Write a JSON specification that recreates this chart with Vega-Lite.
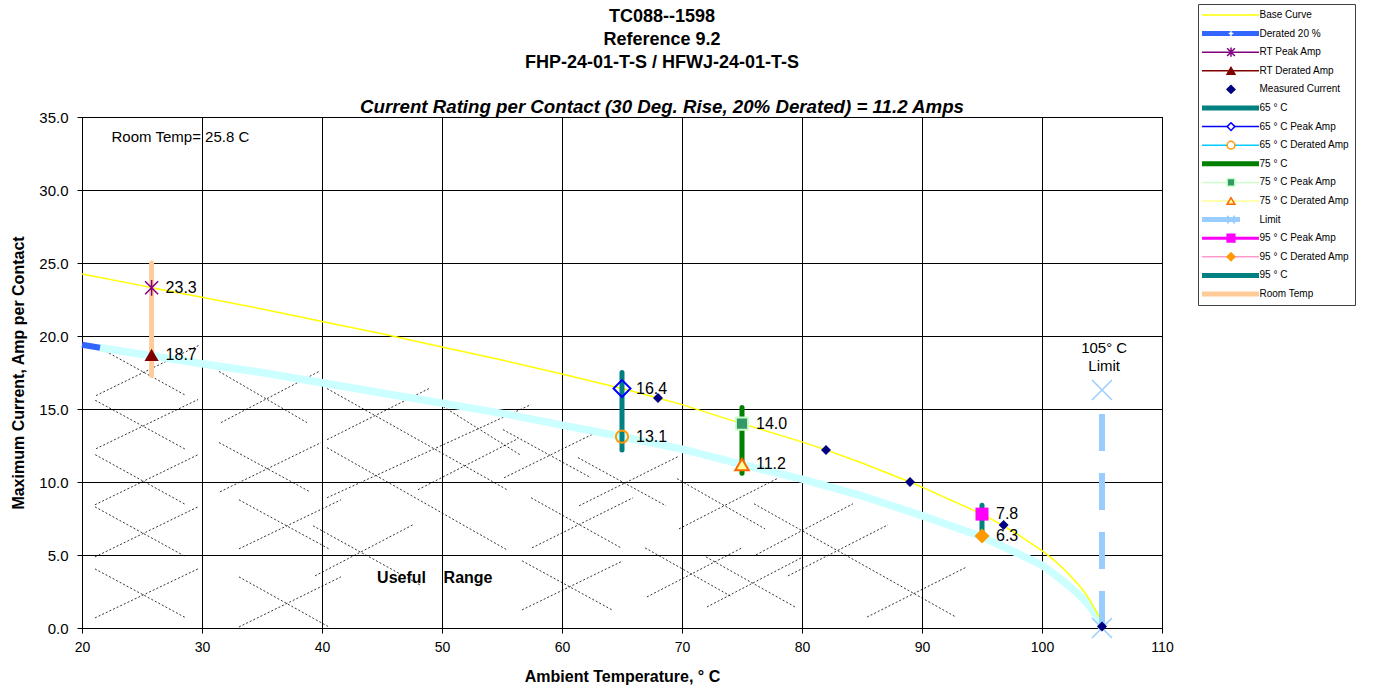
{
  "$schema": "https://vega.github.io/schema/vega-lite/v6.json",
  "width": 1080,
  "height": 511,
  "autosize": {"type": "none"},
  "padding": {"left": 82, "top": 117, "right": 213, "bottom": 64},
  "background": "white",
  "title": {
    "text": ["TC088--1598", "Reference 9.2", "FHP-24-01-T-S / HFWJ-24-01-T-S"],
    "subtitle": "Current Rating per Contact (30 Deg. Rise, 20% Derated)  = 11.2 Amps",
    "anchor": "middle", "dx": 40, "dy": 118,
    "font": "Liberation Sans", "fontSize": 18, "fontWeight": "bold", "color": "#000", "lineHeight": 23,
    "subtitleFont": "Liberation Sans", "subtitleFontSize": 18.7, "subtitleFontStyle": "italic", "subtitleFontWeight": "bold", "subtitleColor": "#000",
    "subtitlePadding": 26, "offset": 5
  },
  "datasets": {
    "lines": [
      {"series": "Base Curve", "t": 20, "amp": 24.25}, {"series": "Base Curve", "t": 25, "amp": 23.45}, {"series": "Base Curve", "t": 25.8, "amp": 23.3},
      {"series": "Base Curve", "t": 30, "amp": 22.65}, {"series": "Base Curve", "t": 35, "amp": 21.85}, {"series": "Base Curve", "t": 40, "amp": 21.0},
      {"series": "Base Curve", "t": 45, "amp": 20.15}, {"series": "Base Curve", "t": 50, "amp": 19.25}, {"series": "Base Curve", "t": 55, "amp": 18.35},
      {"series": "Base Curve", "t": 60, "amp": 17.4}, {"series": "Base Curve", "t": 65, "amp": 16.4}, {"series": "Base Curve", "t": 68, "amp": 15.75},
      {"series": "Base Curve", "t": 70, "amp": 15.3}, {"series": "Base Curve", "t": 75, "amp": 14.0}, {"series": "Base Curve", "t": 80, "amp": 12.75},
      {"series": "Base Curve", "t": 82, "amp": 12.2}, {"series": "Base Curve", "t": 85, "amp": 11.3}, {"series": "Base Curve", "t": 89, "amp": 10.0},
      {"series": "Base Curve", "t": 90, "amp": 9.65}, {"series": "Base Curve", "t": 95, "amp": 7.8}, {"series": "Base Curve", "t": 96.8, "amp": 7.0},
      {"series": "Base Curve", "t": 98, "amp": 6.4}, {"series": "Base Curve", "t": 100, "amp": 5.3}, {"series": "Base Curve", "t": 101, "amp": 4.65},
      {"series": "Base Curve", "t": 102, "amp": 3.9}, {"series": "Base Curve", "t": 103, "amp": 3.0}, {"series": "Base Curve", "t": 103.5, "amp": 2.5},
      {"series": "Base Curve", "t": 104, "amp": 1.9}, {"series": "Base Curve", "t": 104.5, "amp": 1.15}, {"series": "Base Curve", "t": 104.8, "amp": 0.65},
      {"series": "Base Curve", "t": 105, "amp": 0},
      {"series": "Derated 20 %", "t": 20, "amp": 19.4}, {"series": "Derated 20 %", "t": 21.5, "amp": 19.2}, {"series": "Derated 20 %", "t": 25, "amp": 18.75},
      {"series": "Derated 20 %", "t": 30, "amp": 18.1}, {"series": "Derated 20 %", "t": 35, "amp": 17.5}, {"series": "Derated 20 %", "t": 40, "amp": 16.8},
      {"series": "Derated 20 %", "t": 45, "amp": 16.1}, {"series": "Derated 20 %", "t": 50, "amp": 15.4}, {"series": "Derated 20 %", "t": 55, "amp": 14.7},
      {"series": "Derated 20 %", "t": 60, "amp": 13.9}, {"series": "Derated 20 %", "t": 65, "amp": 13.1}, {"series": "Derated 20 %", "t": 70, "amp": 12.25},
      {"series": "Derated 20 %", "t": 75, "amp": 11.2}, {"series": "Derated 20 %", "t": 80, "amp": 10.2}, {"series": "Derated 20 %", "t": 85, "amp": 9.05},
      {"series": "Derated 20 %", "t": 90, "amp": 7.7}, {"series": "Derated 20 %", "t": 95, "amp": 6.25}, {"series": "Derated 20 %", "t": 98, "amp": 5.1},
      {"series": "Derated 20 %", "t": 100, "amp": 4.3}, {"series": "Derated 20 %", "t": 101, "amp": 3.7}, {"series": "Derated 20 %", "t": 102, "amp": 3.05},
      {"series": "Derated 20 %", "t": 103, "amp": 2.35}, {"series": "Derated 20 %", "t": 103.5, "amp": 1.95}, {"series": "Derated 20 %", "t": 104, "amp": 1.45},
      {"series": "Derated 20 %", "t": 104.5, "amp": 0.9}, {"series": "Derated 20 %", "t": 104.8, "amp": 0.5}, {"series": "Derated 20 %", "t": 105, "amp": 0},
      {"series": "65 ° C", "t": 65, "amp": 12.2}, {"series": "65 ° C", "t": 65, "amp": 17.5},
      {"series": "75  ° C", "t": 75, "amp": 10.6}, {"series": "75  ° C", "t": 75, "amp": 15.1},
      {"series": "95  ° C", "t": 95, "amp": 6.5}, {"series": "95  ° C", "t": 95, "amp": 8.4},
      {"series": "Room Temp", "t": 25.8, "amp": 17.3}, {"series": "Room Temp", "t": 25.8, "amp": 25.0},
      {"series": "Limit", "t": 105, "amp": 0}, {"series": "Limit", "t": 105, "amp": 16.1}
    ],
    "pts": [
      {"marker": "Limit", "t": 105, "amp": 0}, {"marker": "Limit", "t": 105, "amp": 16.3},
      {"marker": "RT Peak Amp", "t": 25.8, "amp": 23.3}, {"marker": "RT Derated Amp", "t": 25.8, "amp": 18.7},
      {"marker": "Measured Current", "t": 68, "amp": 15.75}, {"marker": "Measured Current", "t": 82, "amp": 12.2},
      {"marker": "Measured Current", "t": 89, "amp": 10.0}, {"marker": "Measured Current", "t": 96.8, "amp": 7.05},
      {"marker": "Measured Current", "t": 105, "amp": 0.1},
      {"marker": "65  ° C Peak Amp", "t": 65, "amp": 16.4}, {"marker": "65  ° C Derated Amp", "t": 65, "amp": 13.1},
      {"marker": "75  ° C Peak Amp", "t": 75, "amp": 14.0}, {"marker": "75  ° C Derated Amp", "t": 75, "amp": 11.2},
      {"marker": "95  ° C Peak Amp", "t": 95, "amp": 7.8}, {"marker": "95  ° C Derated Amp", "t": 95, "amp": 6.3}
    ],
    "hatch": [
      {"t": 21.1, "amp": 19.35, "t2": 28.67, "amp2": 15.92}, {"t": 21.17, "amp": 15.92, "t2": 29.72, "amp2": 19.35},
      {"t": 21.1, "amp": 15.6, "t2": 28.67, "amp2": 12.22}, {"t": 21.17, "amp": 12.28, "t2": 29.67, "amp2": 15.65},
      {"t": 21.1, "amp": 11.87, "t2": 28.67, "amp2": 8.44}, {"t": 21.08, "amp": 8.44, "t2": 29.67, "amp2": 11.87},
      {"t": 21.08, "amp": 8.3, "t2": 28.67, "amp2": 4.87}, {"t": 21.08, "amp": 4.87, "t2": 29.67, "amp2": 8.3},
      {"t": 21.08, "amp": 4.05, "t2": 28.67, "amp2": 0.69}, {"t": 21.08, "amp": 0.69, "t2": 29.67, "amp2": 4.05},
      {"t": 31.42, "amp": 17.57, "t2": 38.75, "amp2": 14.07}, {"t": 31.58, "amp": 14.07, "t2": 39.75, "amp2": 17.57},
      {"t": 31.42, "amp": 12.7, "t2": 39.0, "amp2": 9.33}, {"t": 31.5, "amp": 9.33, "t2": 39.92, "amp2": 12.7},
      {"t": 33.08, "amp": 8.78, "t2": 40.58, "amp2": 5.42}, {"t": 33.08, "amp": 5.42, "t2": 41.58, "amp2": 8.78},
      {"t": 33.08, "amp": 3.5, "t2": 40.58, "amp2": 0.07}, {"t": 33.08, "amp": 0.07, "t2": 41.58, "amp2": 3.5},
      {"t": 40.42, "amp": 16.4, "t2": 55.42, "amp2": 9.47}, {"t": 40.42, "amp": 12.9, "t2": 48.92, "amp2": 16.4},
      {"t": 40.42, "amp": 12.35, "t2": 55.42, "amp2": 5.35}, {"t": 40.42, "amp": 8.92, "t2": 57.42, "amp2": 15.3},
      {"t": 39.25, "amp": 7.0, "t2": 48.17, "amp2": 2.95}, {"t": 39.42, "amp": 3.57, "t2": 47.58, "amp2": 7.07},
      {"t": 48.0, "amp": 9.47, "t2": 56.33, "amp2": 12.97}, {"t": 49.83, "amp": 15.3, "t2": 56.5, "amp2": 11.87},
      {"t": 55.08, "amp": 13.59, "t2": 62.42, "amp2": 10.29}, {"t": 55.17, "amp": 10.29, "t2": 63.33, "amp2": 13.59},
      {"t": 61.33, "amp": 11.67, "t2": 68.67, "amp2": 8.37}, {"t": 61.42, "amp": 8.37, "t2": 69.67, "amp2": 11.74},
      {"t": 57.42, "amp": 8.92, "t2": 64.92, "amp2": 5.49}, {"t": 57.5, "amp": 5.49, "t2": 65.92, "amp2": 8.92},
      {"t": 56.67, "amp": 4.6, "t2": 64.17, "amp2": 1.24}, {"t": 56.67, "amp": 1.24, "t2": 65.08, "amp2": 4.6},
      {"t": 69.58, "amp": 10.23, "t2": 76.92, "amp2": 6.79}, {"t": 69.75, "amp": 6.79, "t2": 77.92, "amp2": 10.23},
      {"t": 76.0, "amp": 8.51, "t2": 92.83, "amp2": 0.75}, {"t": 76.17, "amp": 5.01, "t2": 84.25, "amp2": 8.51},
      {"t": 78.83, "amp": 3.57, "t2": 87.17, "amp2": 7.07},
      {"t": 66.92, "amp": 5.49, "t2": 74.17, "amp2": 2.13}, {"t": 67.08, "amp": 2.13, "t2": 75.0, "amp2": 5.49},
      {"t": 72.0, "amp": 4.87, "t2": 79.42, "amp2": 1.44}, {"t": 72.08, "amp": 1.44, "t2": 80.08, "amp2": 4.87},
      {"t": 85.42, "amp": 0.75, "t2": 93.75, "amp2": 4.19}
    ],
    "notes": [
      {"label": "Room Temp= 25.8 C", "t": 28.2, "amp": 33.65},
      {"label": "105° C", "t": 105.18, "amp": 19.15},
      {"label": "Limit", "t": 105.18, "amp": 17.94}
    ],
    "bold": [
      {"label": "Useful", "t": 46.63, "amp": 3.44},
      {"label": "Range", "t": 52.17, "amp": 3.44}
    ]
  },
  "encoding": {
    "x": {"field": "t", "type": "quantitative",
      "scale": {"domain": [20, 110], "nice": false, "zero": false},
      "axis": {"title": "Ambient Temperature,  ° C", "values": [20, 30, 40, 50, 60, 70, 80, 90, 100, 110], "labelFlush": false, "labelOverlap": false, "labelPadding": 7, "titlePadding": 14, "grid": true}},
    "y": {"field": "amp", "type": "quantitative",
      "scale": {"domain": [0, 35], "nice": false, "zero": false},
      "axis": {"title": "Maximum Current, Amp per Contact", "values": [0, 5, 10, 15, 20, 25, 30, 35], "format": ".1f", "labelFlush": false, "labelOverlap": false, "labelPadding": 9, "labelFontSize": 15, "titlePadding": 12, "grid": true}}
  },
  "layer": [
    {"data": {"name": "hatch"}, "mark": {"type": "rule", "color": "#000", "strokeWidth": 0.8, "strokeDash": [2, 2]},
     "encoding": {"x2": {"field": "t2"}, "y2": {"field": "amp2"}}},
    {"data": {"name": "lines"}, "transform": [{"filter": "datum.series == 'Derated 20 %'"}],
     "mark": {"type": "line", "strokeWidth": 6},
     "encoding": {"color": {"field": "series", "type": "nominal",
       "scale": {"domain": ["Base Curve", "Derated 20 %", "RT Peak Amp", "RT Derated Amp", "Measured Current", "65 ° C", "65  ° C Peak Amp", "65  ° C Derated Amp", "75  ° C", "75  ° C Peak Amp", "75  ° C Derated Amp", "Limit", "95  ° C Peak Amp", "95  ° C Derated Amp", "95  ° C", "Room Temp"],
                 "range": ["#FFFF00", "#3366FF", "#800080", "#800000", "transparent", "#008080", "#0000FF", "#00CCFF", "#008000", "#CCFFCC", "#FFFF99", "#99CCFF", "#FF00FF", "#FF99CC", "#008080", "#FFCC99"]},
       "legend": {"title": null, "orient": "none", "legendX": 1116, "legendY": -113, "direction": "vertical", "symbolType": "stroke", "symbolSize": 3249, "symbolStrokeWidth": 2, "clipHeight": 16, "rowPadding": 2.6, "padding": 3, "symbolOffset": 24.5, "labelOffset": 24, "labelFontSize": 10, "labelFont": "Liberation Sans", "labelColor": "#000", "labelLimit": 300, "fillColor": "#FFFFFF", "strokeColor": "#404040",
         "encode": {"symbols": {"update": {"strokeWidth": {"signal": "indexof(['Derated 20 %','65 ° C','75  ° C','Limit','95  ° C','Room Temp'], datum.value) >= 0 ? 5 : (datum.value == '95  ° C Peak Amp' ? 3 : 1.5)"}, "strokeDash": {"signal": "datum.value == 'Limit' ? [38, 40] : [1, 0]"}}}}}}}},
    {"data": {"name": "lines"}, "transform": [{"filter": "datum.series == 'Derated 20 %' && datum.t >= 21.5"}],
     "mark": {"type": "line", "strokeWidth": 7.5, "color": "#CCFFFF"}, "encoding": {}},
    {"data": {"name": "lines"}, "transform": [{"filter": "datum.series == 'Base Curve'"}],
     "mark": {"type": "line", "strokeWidth": 1.5},
     "encoding": {"color": {"field": "series", "type": "nominal",
       "scale": {"domain": ["Base Curve", "Derated 20 %", "RT Peak Amp", "RT Derated Amp", "Measured Current", "65 ° C", "65  ° C Peak Amp", "65  ° C Derated Amp", "75  ° C", "75  ° C Peak Amp", "75  ° C Derated Amp", "Limit", "95  ° C Peak Amp", "95  ° C Derated Amp", "95  ° C", "Room Temp"],
                 "range": ["#FFFF00", "#3366FF", "#800080", "#800000", "transparent", "#008080", "#0000FF", "#00CCFF", "#008000", "#CCFFCC", "#FFFF99", "#99CCFF", "#FF00FF", "#FF99CC", "#008080", "#FFCC99"]}}}},
    {"data": {"name": "lines"}, "transform": [{"filter": "datum.series == 'Limit'"}],
     "mark": {"type": "line", "strokeWidth": 6, "strokeDash": [37, 22]},
     "encoding": {"order": {"field": "amp", "type": "quantitative"}, "color": {"field": "series", "type": "nominal",
       "scale": {"domain": ["Base Curve", "Derated 20 %", "RT Peak Amp", "RT Derated Amp", "Measured Current", "65 ° C", "65  ° C Peak Amp", "65  ° C Derated Amp", "75  ° C", "75  ° C Peak Amp", "75  ° C Derated Amp", "Limit", "95  ° C Peak Amp", "95  ° C Derated Amp", "95  ° C", "Room Temp"],
                 "range": ["#FFFF00", "#3366FF", "#800080", "#800000", "transparent", "#008080", "#0000FF", "#00CCFF", "#008000", "#CCFFCC", "#FFFF99", "#99CCFF", "#FF00FF", "#FF99CC", "#008080", "#FFCC99"]}}}},
    {"data": {"name": "lines"}, "transform": [{"filter": {"field": "series", "oneOf": ["65 ° C", "75  ° C", "95  ° C", "Room Temp"]}}],
     "mark": {"type": "line", "strokeWidth": 5, "strokeCap": "round"},
     "encoding": {"color": {"field": "series", "type": "nominal",
       "scale": {"domain": ["Base Curve", "Derated 20 %", "RT Peak Amp", "RT Derated Amp", "Measured Current", "65 ° C", "65  ° C Peak Amp", "65  ° C Derated Amp", "75  ° C", "75  ° C Peak Amp", "75  ° C Derated Amp", "Limit", "95  ° C Peak Amp", "95  ° C Derated Amp", "95  ° C", "Room Temp"],
                 "range": ["#FFFF00", "#3366FF", "#800080", "#800000", "transparent", "#008080", "#0000FF", "#00CCFF", "#008000", "#CCFFCC", "#FFFF99", "#99CCFF", "#FF00FF", "#FF99CC", "#008080", "#FFCC99"]}}}},
    {"data": {"name": "pts"},
     "mark": {"type": "point", "opacity": 0, "strokeWidth": 1.5,
       "fill": {"expr": "['transparent','transparent','transparent','#800000','#000080','transparent','#FFFFFF','#FFFFFF','transparent','#339966','#FFFF99','transparent','#FF00FF','#FF9900','transparent','transparent','transparent'][indexof(['Base Curve','Derated 20 %','RT Peak Amp','RT Derated Amp','Measured Current','65 ° C','65  ° C Peak Amp','65  ° C Derated Amp','75  ° C','75  ° C Peak Amp','75  ° C Derated Amp','Limit','95  ° C Peak Amp','95  ° C Derated Amp','95  ° C','Room Temp','none'], datum.value)] || 'transparent'"},
       "stroke": {"expr": "['transparent','#FFFFFF','#800080','#800000','#000080','transparent','#0000FF','#FF9900','transparent','#CCFFCC','#FF6600','#99CCFF','#FF00FF','#FF9900','transparent','transparent','transparent'][indexof(['Base Curve','Derated 20 %','RT Peak Amp','RT Derated Amp','Measured Current','65 ° C','65  ° C Peak Amp','65  ° C Derated Amp','75  ° C','75  ° C Peak Amp','75  ° C Derated Amp','Limit','95  ° C Peak Amp','95  ° C Derated Amp','95  ° C','Room Temp','none'], datum.value)] || 'transparent'"}},
     "encoding": {
       "shape": {"field": "marker", "type": "nominal",
         "scale": {"domain": ["Base Curve", "Derated 20 %", "RT Peak Amp", "RT Derated Amp", "Measured Current", "65 ° C", "65  ° C Peak Amp", "65  ° C Derated Amp", "75  ° C", "75  ° C Peak Amp", "75  ° C Derated Amp", "Limit", "95  ° C Peak Amp", "95  ° C Derated Amp", "95  ° C", "Room Temp", "none"],
                   "range": ["circle", "M-0.6,0L0.6,0M0,-0.6L0,0.6", "M-1,-1L1,1M-1,1L1,-1M0,-1.2L0,1.2", "triangle-up", "diamond", "circle", "diamond", "circle", "circle", "square", "triangle-up", "M-1,-1L1,1M-1,1L1,-1", "square", "diamond", "circle", "circle", "circle"]},
         "legend": {"title": null, "orient": "none", "legendX": 1116, "legendY": -113, "direction": "vertical", "symbolSize": 60, "symbolStrokeWidth": 1.5, "symbolOpacity": 1, "clipHeight": 16, "rowPadding": 2.6, "padding": 3, "symbolOffset": 25, "labelExpr": "''", "labelOpacity": 0, "labelFontSize": 10, "labelFont": "Liberation Sans", "labelLimit": 300}}
     }},
    {"data": {"name": "pts"}, "transform": [{"filter": "datum.marker == 'Limit'"}],
     "mark": {"type": "point", "shape": "M-1,-1L1,1M-1,1L1,-1", "size": 400, "filled": false, "stroke": "#99CCFF", "strokeWidth": 1.5, "opacity": 1}},
    {"data": {"name": "pts"}, "transform": [{"filter": "datum.marker == 'RT Peak Amp'"}],
     "mark": {"type": "point", "shape": "M-1,-1L1,1M-1,1L1,-1M0,-1.2L0,1.2", "size": 170, "filled": false, "stroke": "#800080", "strokeWidth": 1.5, "opacity": 1}},
    {"data": {"name": "pts"}, "transform": [{"filter": "datum.marker == 'RT Derated Amp'"}],
     "mark": {"type": "point", "shape": "triangle-up", "size": 200, "filled": true, "fill": "#800000", "opacity": 1}},
    {"data": {"name": "pts"}, "transform": [{"filter": "datum.marker == 'Measured Current'"}],
     "mark": {"type": "point", "shape": "diamond", "size": 100, "filled": true, "fill": "#000080", "opacity": 1}},
    {"data": {"name": "pts"}, "transform": [{"filter": "datum.marker == '65  ° C Peak Amp'"}],
     "mark": {"type": "point", "shape": "diamond", "size": 289, "filled": false, "stroke": "#0000FF", "strokeWidth": 2, "opacity": 1}},
    {"data": {"name": "pts"}, "transform": [{"filter": "datum.marker == '65  ° C Derated Amp'"}],
     "mark": {"type": "point", "shape": "circle", "size": 150, "filled": false, "stroke": "#FF9900", "strokeWidth": 2, "opacity": 1}},
    {"data": {"name": "pts"}, "transform": [{"filter": "datum.marker == '75  ° C Peak Amp'"}],
     "mark": {"type": "point", "shape": "square", "size": 150, "filled": true, "fill": "#339966", "stroke": "#CCFFCC", "strokeWidth": 2, "opacity": 1}},
    {"data": {"name": "pts"}, "transform": [{"filter": "datum.marker == '75  ° C Derated Amp'"}],
     "mark": {"type": "point", "shape": "triangle-up", "size": 180, "filled": true, "fill": "#FFFF99", "stroke": "#FF6600", "strokeWidth": 2, "opacity": 1}},
    {"data": {"name": "pts"}, "transform": [{"filter": "datum.marker == '95  ° C Peak Amp'"}],
     "mark": {"type": "point", "shape": "square", "size": 169, "filled": true, "fill": "#FF00FF", "opacity": 1}},
    {"data": {"name": "pts"}, "transform": [{"filter": "datum.marker == '95  ° C Derated Amp'"}],
     "mark": {"type": "point", "shape": "diamond", "size": 225, "filled": true, "fill": "#FF9900", "opacity": 1}},
    {"data": {"name": "pts"}, "transform": [{"filter": "datum.marker != 'Measured Current' && datum.marker != 'Limit'"}],
     "mark": {"type": "text", "align": "left", "baseline": "middle", "dx": 14, "fontSize": 16, "font": "Liberation Sans", "color": "#000"},
     "encoding": {"text": {"field": "amp", "type": "quantitative", "format": ".1f"}}},
    {"data": {"name": "notes"},
     "mark": {"type": "text", "align": "center", "baseline": "middle", "fontSize": 15, "font": "Liberation Sans", "color": "#000"},
     "encoding": {"text": {"field": "label", "type": "nominal"}}},
    {"data": {"name": "bold"},
     "mark": {"type": "text", "align": "center", "baseline": "middle", "fontSize": 16, "fontWeight": "bold", "font": "Liberation Sans", "color": "#000"},
     "encoding": {"text": {"field": "label", "type": "nominal"}}}
  ],
  "config": {
    "font": "Liberation Sans",
    "view": {"stroke": "#000", "strokeWidth": 1},
    "axis": {"domainColor": "#000", "domainWidth": 1, "gridColor": "#000", "gridOpacity": 1, "gridWidth": 1, "tickColor": "#000", "tickSize": 5, "tickWidth": 1, "labelColor": "#000", "labelFont": "Liberation Sans", "labelFontSize": 14, "titleColor": "#000", "titleFont": "Liberation Sans", "titleFontSize": 16, "titleFontWeight": "bold"}
  }
}
